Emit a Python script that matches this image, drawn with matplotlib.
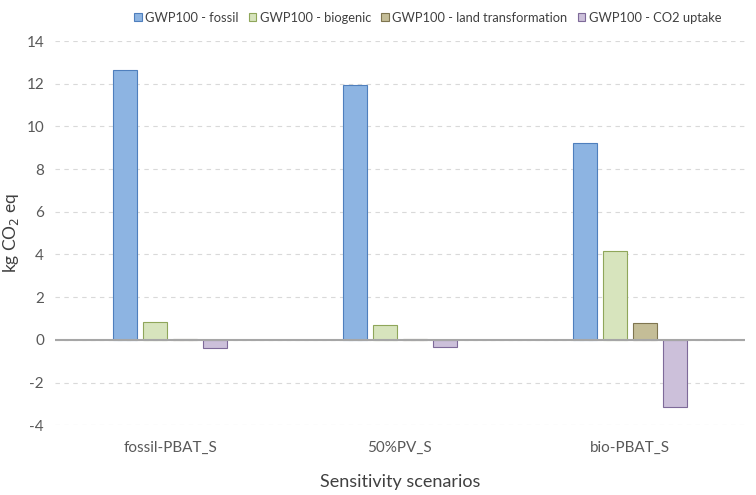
import numpy as np
import matplotlib
matplotlib.use("Agg")
import matplotlib.pyplot as plt

plt.rcParams['font.family'] = ['Lato', 'DejaVu Sans']
plt.rcParams['axes.unicode_minus'] = False

scenarios = ["fossil-PBAT_S", "50%PV_S", "bio-PBAT_S"]
series = ["GWP100 - fossil", "GWP100 - biogenic",
          "GWP100 - land transformation", "GWP100 - CO2 uptake"]
fossil = [12.65, 11.93, 9.23]
biogenic = [0.85, 0.68, 4.18]
land = [0.03, 0.02, 0.80]
co2_uptake = [-0.37, -0.32, -3.13]
values = [fossil, biogenic, land, co2_uptake]

faces = ["#8DB4E2", "#D7E4BD", "#C4BD97", "#CCC0DA"]
edges = ["#4F7FBD", "#8FA65A", "#7F7550", "#7E6A99"]

fig = plt.figure(figsize=(7.56, 4.95), dpi=100)
ax = fig.add_axes([0.073, 0.141, 0.912, 0.776])

x = np.arange(len(scenarios))
width = 0.104
step = 0.13
for i, vals in enumerate(values):
    ax.bar(x + (i - 1.5) * step, vals, width, color=faces[i],
           edgecolor=edges[i], linewidth=0.8, label=series[i], zorder=3)

ax.set_xlim(-0.5, 2.5)
ax.set_ylim(-4, 14)
ax.set_yticks(range(-4, 15, 2))
ax.yaxis.grid(True, linestyle=(0, (4, 4)), color="#D9D9D9", linewidth=0.8, zorder=0)
ax.axhline(0, color="#A6A6A6", linewidth=1.5, zorder=4)
for s in ax.spines.values():
    s.set_visible(False)
ax.tick_params(length=0, colors="#595959", labelsize=11)
ax.set_xticks(x)
ax.set_xticklabels(scenarios)
ax.tick_params(axis="x", pad=11)
ax.tick_params(axis="y", pad=8)
ax.set_ylabel("kg CO$_2$ eq", fontsize=12.5, color="#404040", labelpad=4)
ax.set_xlabel("Sensitivity scenarios", fontsize=13, color="#404040", labelpad=14)

ax.legend(loc="lower center", bbox_to_anchor=(0.54, 1.0), ncol=4, frameon=False,
          fontsize=9.3, handlelength=0.6, handleheight=0.6, handletextpad=0.25,
          columnspacing=0.8, labelcolor="#404040", borderaxespad=0.95)

fig.savefig("out.png", dpi=100)
